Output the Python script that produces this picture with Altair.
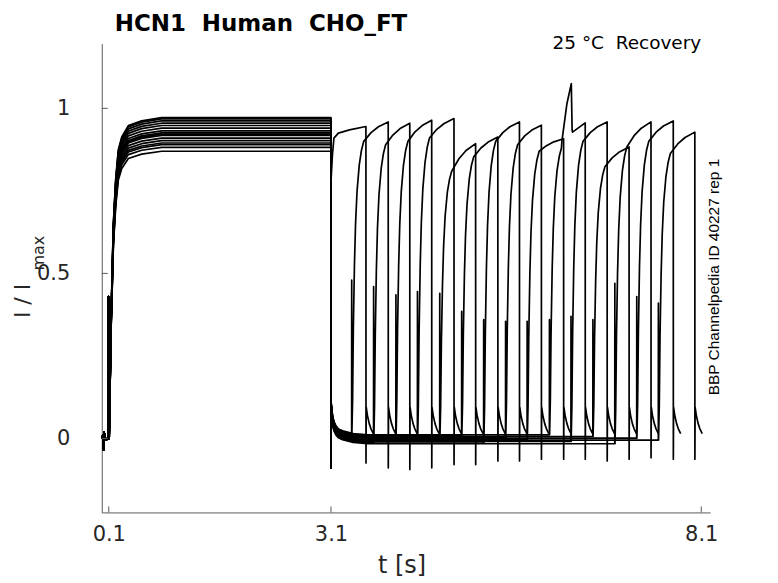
import altair as alt
import pandas as pd

# ---------------- values ----------------
X_TICKS = [0.1, 3.1, 8.1]
Y_TICKS = [0, 0.5, 1]

# steady level reached by each sweep during the 0.1-3.1 s prepulse
PLATEAU = [0.972, 0.870, 0.962, 0.882, 0.955, 0.895, 0.948, 0.902,
           0.940, 0.910, 0.932, 0.918, 0.926, 0.922, 0.890, 0.968]
# test pulse onset / end times [s]
TEST_ONSET = [3.100, 3.379, 3.675, 3.976, 4.267, 4.568, 4.864, 5.161,
              5.457, 5.748, 6.049, 6.340, 6.636, 6.932, 7.228, 7.520]
TEST_DROP = [3.572, 3.873, 4.164, 4.460, 4.761, 5.053, 5.353, 5.645,
             5.941, 6.241, 6.533, 6.829, 7.125, 7.421, 7.722, 8.013]
# level at the knee of the recovery and at the end of the test pulse
TEST_KNEE = [0.910, 0.900, 0.890, 0.900, 0.910, 0.810, 0.853, 0.900,
             0.890, 0.870, 0.880, 0.900, 0.823, 0.883, 0.900, 0.863]
TEST_FINAL = [0.945, 0.959, 0.955, 0.964, 0.969, 0.893, 0.913, 0.959,
              0.949, 0.908, 0.956, 0.959, 0.883, 0.959, 0.962, 0.928]
# capacitive spike at test onset (sweeps 2..16)
ONSET_SPIKE = [0.48, 0.46, 0.435, 0.445, 0.44, 0.385, 0.36, 0.355,
               0.355, 0.36, 0.37, 0.36, 0.47, 0.43, 0.41]
# negative spike at the end of each test pulse
DROP_SPIKE = [-0.074, -0.089, -0.094, -0.089, -0.079, -0.079, -0.068, -0.068,
              -0.063, -0.063, -0.063, -0.068, -0.063, -0.058, -0.063, -0.063]
# holding level of sweeps 2..16 between 3.1 s and test onset
BASE_LEVEL = [0.010, -0.012, 0.005, -0.007, 0.000, 0.008, -0.014, 0.003,
              -0.004, 0.011, -0.009, 0.006, -0.016, 0.001, -0.005]

# pre-pulse baseline wiggle and capacitive spike
PRE_T = [0.005, 0.020, 0.030, 0.035, 0.060, 0.090]
PRE_V = [0.000, 0.010, -0.035, 0.020, -0.005, 0.000]
CAP_T = [0.095, 0.096, 0.098]
CAP_V = [0.000, 0.430, 0.000]
# activation during prepulse (fraction of plateau)
ACT_T = [0.105, 0.131, 0.162, 0.194, 0.229, 0.275, 0.364, 0.544, 0.813, 3.100]
ACT_F = [0.00, 0.38, 0.67, 0.81, 0.90, 0.94, 0.975, 0.99, 1.00, 1.00]
# deactivation after 3.1 s
OFF_SPIKE = -0.09
OFF_T = [3.104, 3.120, 3.140, 3.167, 3.200, 3.257, 3.400, 3.600]
OFF_V = [0.095, 0.060, 0.040, 0.027, 0.018, 0.012, 0.004, 0.000]
# sweep 1: test pulse follows the prepulse directly
S1_T = [3.1005, 3.120, 3.140, 3.200, 3.350]
S1_V = [0.780, 0.860, 0.910, 0.925, 0.935]
# recovery rise after test onset (fraction of knee level)
REC_DT = [0.000, 0.010, 0.020, 0.035, 0.050, 0.070, 0.100, 0.130, 0.160]
REC_F = [0.00, 0.12, 0.36, 0.58, 0.72, 0.83, 0.92, 0.97, 1.00]
# slow rise from knee to end of test pulse
POST_T = [0.3, 0.6]
POST_F = [0.45, 0.75]
# sweep 11 transient bump
BUMP_T = [6.218, 6.286, 6.345, 6.356, 6.362]
BUMP_V = [0.900, 1.014, 1.075, 0.935, 0.928]
# tail after the end of each test pulse
TAIL_DT = [0.004, 0.020, 0.045, 0.067, 0.100]
TAIL_V = [0.095, 0.070, 0.045, 0.030, 0.015]

# ---------------- build the table ----------------
rows = []


def add(k, t, v):
    rows.append({"sweep": k, "i": len(rows), "t": t, "v": v})


for k in range(len(PLATEAU)):
    p = PLATEAU[k]
    for t, v in zip(PRE_T, PRE_V):
        add(k, t, v)
    for t, v in zip(CAP_T, CAP_V):
        add(k, t, v)
    for t, f in zip(ACT_T, ACT_F):
        add(k, t, f * p)
    onset, drop = TEST_ONSET[k], TEST_DROP[k]
    knee, final = TEST_KNEE[k], TEST_FINAL[k]
    if k == 0:
        for t, v in zip(S1_T, S1_V):
            add(k, t, v)
    else:
        b = BASE_LEVEL[k - 1]
        add(k, 3.1005, OFF_SPIKE)
        for t, v in zip(OFF_T, OFF_V):
            if t < onset:
                add(k, t, v + b)
        add(k, onset, b)
        add(k, onset + 0.001, ONSET_SPIKE[k - 1])
        add(k, onset + 0.002, b)
        for dt, f in zip(REC_DT, REC_F):
            add(k, onset + 0.003 + dt, b + f * (knee - b))
        t_knee = onset + 0.163
        if k == 10:
            for t, v in zip(BUMP_T, BUMP_V):
                add(k, t, v)
        else:
            for ft, fv in zip(POST_T, POST_F):
                add(k, t_knee + ft * (drop - t_knee), knee + fv * (final - knee))
    add(k, drop, final)
    add(k, drop + 0.001, DROP_SPIKE[k])
    for dt, v in zip(TAIL_DT, TAIL_V):
        add(k, drop + dt, v)

df = pd.DataFrame(rows)

# ---------------- chart ----------------
W, H = 610, 470
FONT = "DejaVu Sans"
TXT = "#262626"
AX = "#5a5a5a"
NB = "\u00a0"

xs = alt.Scale(domain=[0.005, 8.22], nice=False, zero=False)
ys = alt.Scale(domain=[-0.224, 1.196], nice=False, zero=False)

traces = alt.Chart(df).mark_line(color="black", strokeWidth=1.7, strokeJoin="round").encode(
    x=alt.X("t:Q", scale=xs,
            axis=alt.Axis(values=X_TICKS, format=".1f", title=None, grid=False,
                          ticks=False, tickSize=0, labelFontSize=21, labelFont=FONT,
                          labelColor=TXT, labelPadding=11, domainColor=AX,
                          domainWidth=1, labelFlush=False)),
    y=alt.Y("v:Q", scale=ys,
            axis=alt.Axis(values=Y_TICKS, format="~g", title=None, grid=False,
                          ticks=False, tickSize=0, labelFontSize=21, labelFont=FONT,
                          labelColor=TXT, labelPadding=32, domainColor=AX,
                          domainWidth=1, labelFlush=False)),
    detail="sweep:N",
    order="i:Q",
)

ytick = alt.Chart(pd.DataFrame({"v": Y_TICKS})).mark_rule(color=AX, strokeWidth=1).encode(
    y=alt.Y("v:Q", scale=ys), x=alt.value(0), x2=alt.value(6))
xtick = alt.Chart(pd.DataFrame({"t": X_TICKS})).mark_rule(color=AX, strokeWidth=1).encode(
    x=alt.X("t:Q", scale=xs), y=alt.value(H), y2=alt.value(H - 6))


def label(text, x, y, size, angle=0, align="center", baseline="alphabetic",
          weight="normal", font=FONT, color=TXT):
    return alt.Chart(pd.DataFrame({"s": [text]})).mark_text(
        fontSize=size, angle=angle, align=align, baseline=baseline,
        fontWeight=weight, font=font, color=color).encode(
        text="s:N", x=alt.value(x), y=alt.value(y))


title = label(f"HCN1{NB}{NB}Human{NB}{NB}CHO_FT", 13, -13, 23, align="left",
              weight="bold", color="black")
cond = label(f"25{NB}°C{NB}{NB}Recovery", 601, 5, 18.5, align="right", color="black")
side = label("BBP Channelpedia ID 40227 rep 1", 619, 234, 15.5, angle=270,
             font="Liberation Sans", color="black")
xtitle = label("t [s]", 301, 531, 24)
ytitle = label(f"I{NB}/{NB}I", -72, 258, 22, angle=270)
ysub = label("max", -58, 210, 16, angle=270)

chart = alt.layer(traces, ytick, xtick, title, cond, side, xtitle, ytitle, ysub).properties(
    width=W, height=H,
    padding={"left": 94, "top": 35, "right": 60, "bottom": 66},
    autosize=alt.AutoSizeParams(type="none"),
    background="white",
).configure_view(stroke=None)

chart.save("out.html", embed_options={"renderer": "svg", "actions": False})
